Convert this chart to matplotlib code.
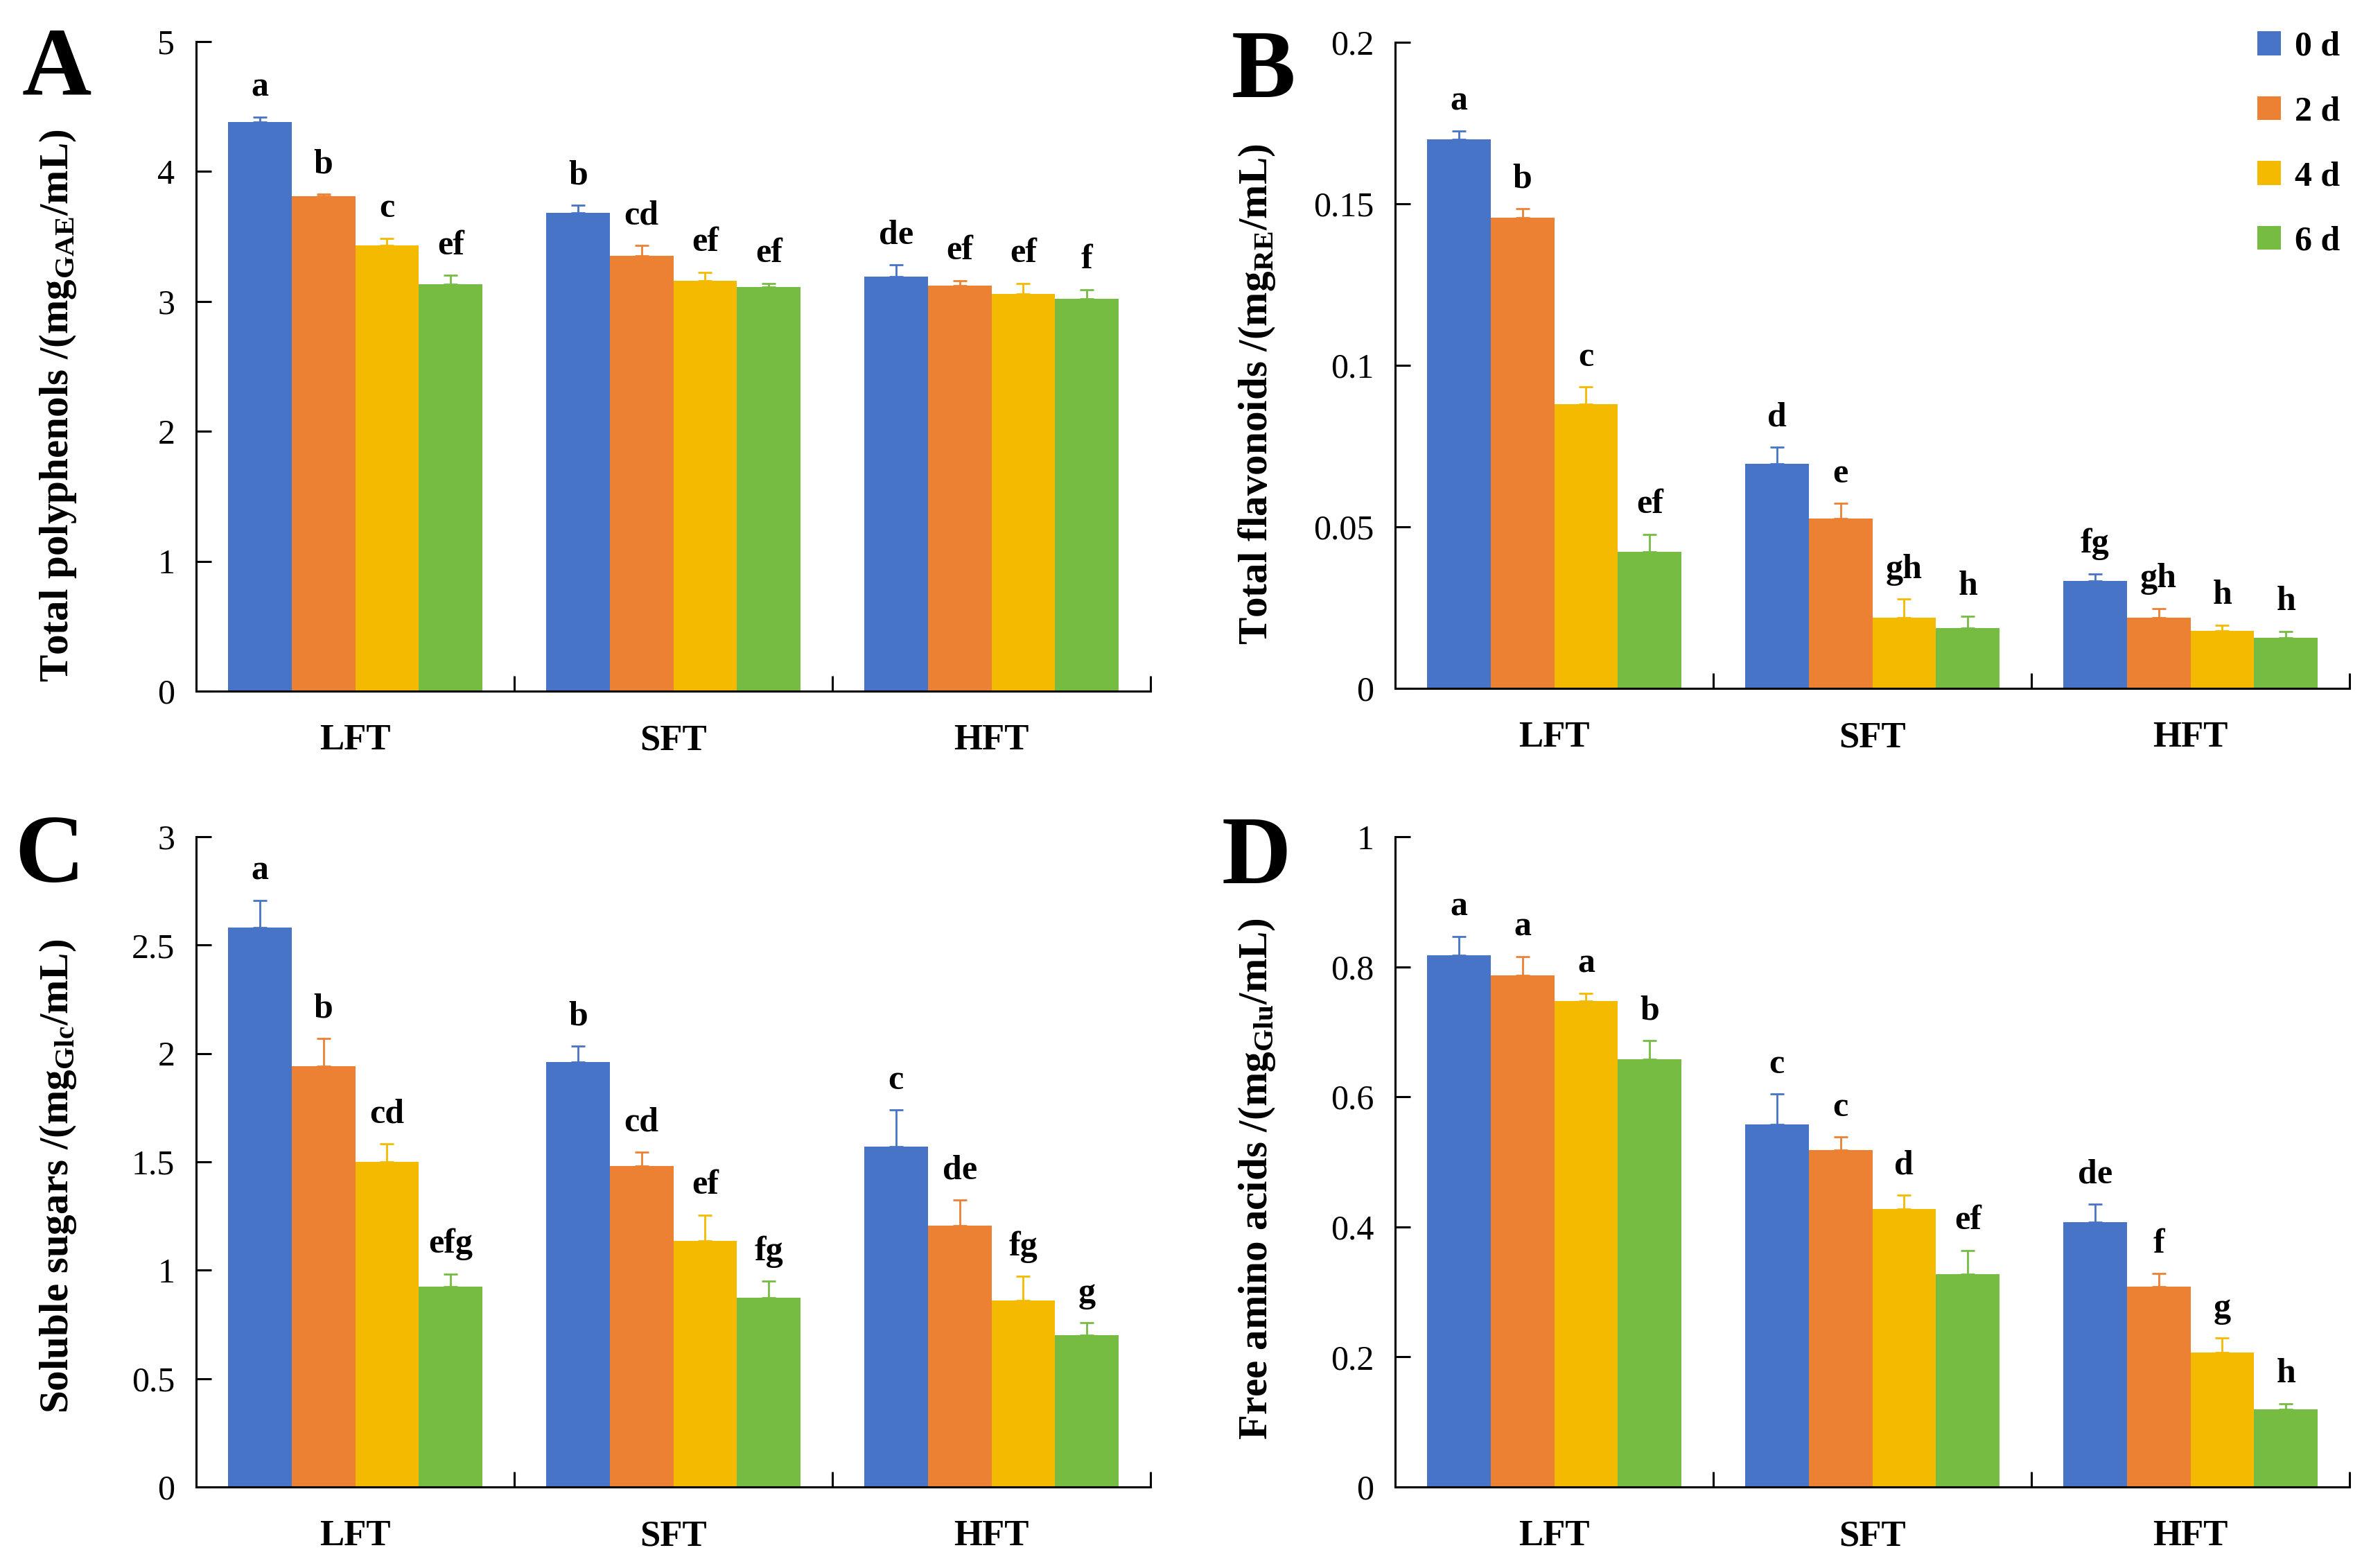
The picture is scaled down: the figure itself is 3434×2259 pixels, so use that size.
import numpy as np
import matplotlib
matplotlib.use("Agg")
import matplotlib.pyplot as plt

plt.rcParams['font.family'] = ['Liberation Serif', 'DejaVu Serif']
plt.rcParams['mathtext.fontset'] = 'custom'
plt.rcParams['mathtext.rm'] = 'Liberation Serif:bold'
plt.rcParams['mathtext.bf'] = 'Liberation Serif:bold'

groups = ['LFT', 'SFT', 'HFT']
days = ['0 d', '2 d', '4 d', '6 d']
colors = ['#4874C8', '#ED8133', '#F4BA00', '#76BC43']

# values per day (rows) across groups LFT, SFT, HFT (columns)
poly_mean = [[4.38, 3.68, 3.19], [3.81, 3.35, 3.12], [3.43, 3.16, 3.06], [3.13, 3.11, 3.02]]
poly_err = [[0.04, 0.06, 0.09], [0.015, 0.08, 0.04], [0.055, 0.065, 0.08], [0.07, 0.03, 0.07]]
poly_sig = [['a', 'b', 'de'], ['b', 'cd', 'ef'], ['c', 'ef', 'ef'], ['ef', 'ef', 'f']]

flav_mean = [[0.170, 0.0695, 0.0332], [0.1458, 0.0526, 0.0219], [0.088, 0.0219, 0.0178], [0.0422, 0.0186, 0.0157]]
flav_err = [[0.0026, 0.0051, 0.0023], [0.0028, 0.0047, 0.0028], [0.0053, 0.0057, 0.0018], [0.0055, 0.0038, 0.002]]
flav_sig = [['a', 'd', 'fg'], ['b', 'e', 'gh'], ['c', 'gh', 'h'], ['ef', 'h', 'h']]

sugar_mean = [[2.58, 1.96, 1.57], [1.94, 1.48, 1.205], [1.50, 1.135, 0.86], [0.923, 0.872, 0.702]]
sugar_err = [[0.126, 0.074, 0.17], [0.13, 0.065, 0.12], [0.084, 0.12, 0.112], [0.06, 0.077, 0.056]]
sugar_sig = [['a', 'b', 'c'], ['b', 'cd', 'de'], ['cd', 'ef', 'fg'], ['efg', 'fg', 'g']]

amino_mean = [[0.818, 0.558, 0.407], [0.787, 0.518, 0.308], [0.747, 0.428, 0.207], [0.658, 0.327, 0.119]]
amino_err = [[0.029, 0.046, 0.028], [0.029, 0.02, 0.02], [0.012, 0.021, 0.022], [0.029, 0.037, 0.009]]
amino_sig = [['a', 'c', 'de'], ['a', 'c', 'f'], ['a', 'd', 'g'], ['b', 'ef', 'h']]

W, H = 3434, 2259
fig = plt.figure(figsize=(W / 200, H / 200), dpi=200)

panels = [
    ('A', [283, 1660, 60, 997], poly_mean, poly_err, poly_sig, 5, [0, 1, 2, 3, 4, 5],
     r'Total polyphenols /(mg$_{\mathbf{GAE}}$/mL)', 0.44, (82, 40)),
    ('B', [2013, 3390, 61, 993], flav_mean, flav_err, flav_sig, 0.2, [0, 0.05, 0.1, 0.15, 0.2],
     r'Total flavonoids /(mg$_{\mathbf{RE}}$/mL)', 0.455, (1823, 43)),
    ('C', [283, 1660, 1207, 2145], sugar_mean, sugar_err, sugar_sig, 3, [0, 0.5, 1, 1.5, 2, 2.5, 3],
     r'Soluble sugars /(mg$_{\mathbf{Glc}}$/mL)', 0.478, (71, 1175)),
    ('D', [2013, 3390, 1207, 2145], amino_mean, amino_err, amino_sig, 1, [0, 0.2, 0.4, 0.6, 0.8, 1],
     r'Free amino acids /(mg$_{\mathbf{Glu}}$/mL)', 0.474, (1813, 1177)),
]

x = np.arange(len(groups))
width = 0.2
axes = []
for letter, (l, r, t, b), mean, err, sig, ymax, yticks, ylabel, ymid, (lx, ly) in panels:
    ax = fig.add_axes([l / W, 1 - b / H, (r - l) / W, (b - t) / H])
    axes.append(ax)
    for i in range(len(days)):
        pos = x + (i - 1.5) * width
        m = np.array(mean[i])
        e = np.array(err[i])
        ax.bar(pos, m, width, color=colors[i], label=days[i], zorder=2)
        ax.errorbar(pos, m, yerr=[np.zeros_like(e), e], fmt='none', ecolor=colors[i],
                    elinewidth=1.0, capsize=3.5, capthick=1.0, zorder=3)
        for px, v, ev, s in zip(pos, m, e, sig[i]):
            ax.annotate(s, (px, v + ev), xytext=(0, 7), textcoords='offset points',
                        ha='center', va='bottom', fontsize=18, fontweight='bold')
    ax.set_xlim(-0.5, 2.5)
    ax.set_ylim(0, ymax)
    ax.set_yticks(yticks)
    ax.set_yticklabels(['%g' % v for v in yticks])
    ax.set_xticks([0.5, 1.5, 2.5])
    ax.set_xticklabels([])
    ax.set_xticks(x, minor=True)
    ax.set_xticklabels(groups, minor=True, fontweight='bold')
    ax.tick_params(axis='x', which='major', direction='in', length=8, width=1.1)
    ax.tick_params(axis='x', which='minor', length=0, pad=17, labelsize=19)
    ax.tick_params(axis='y', direction='in', length=8, width=1.1, pad=11, labelsize=18)
    for sp in ['top', 'right']:
        ax.spines[sp].set_visible(False)
    for sp in ['left', 'bottom']:
        ax.spines[sp].set_linewidth(1.1)
    ax.text(-0.145, ymid, ylabel, transform=ax.transAxes, rotation=90,
            ha='center', va='center', fontsize=21.3, fontweight='bold')
    fig.text(lx / W, 1 - ly / H, letter, ha='center', va='top', fontsize=50, fontweight='bold')

axes[1].legend(loc='upper left', bbox_to_anchor=(3257 / W, 1 - 45 / H), bbox_transform=fig.transFigure,
               frameon=False, handlelength=0.68, handleheight=0.68,
               handletextpad=0.4, labelspacing=0.95, borderpad=0, borderaxespad=0,
               prop={'weight': 'bold', 'size': 18})

fig.savefig('out.png', dpi=200)
